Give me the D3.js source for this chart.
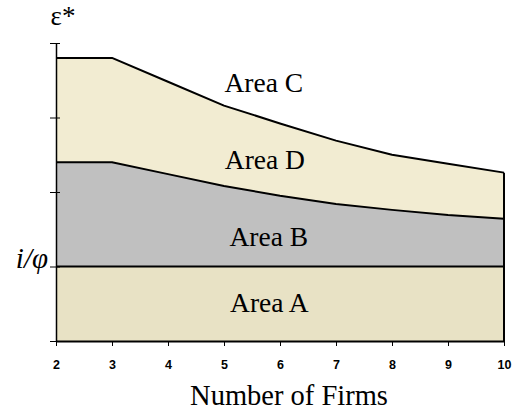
<!DOCTYPE html>
<html><head><meta charset="utf-8">
<script src="https://cdn.jsdelivr.net/npm/d3@7"></script>
<style>html,body{margin:0;padding:0;background:#fff;}svg{display:block;}</style>
</head><body>
<svg id="chart" width="512" height="413"></svg>
<script>
const firms = [2, 3, 4, 5, 6, 7, 8, 9, 10];
const upperBound = [3.80, 3.80, 3.48, 3.16, 2.92, 2.69, 2.50, 2.38, 2.26];
const lowerBound = [2.40, 2.40, 2.24, 2.08, 1.95, 1.84, 1.76, 1.69, 1.64];
const iPhiLevel = 1;
const xTicks = [2, 3, 4, 5, 6, 7, 8, 9, 10];
const yTicks = [0, 1, 2, 3, 4];
const areaLabels = [
  {text: "Area C", x: 5.71, y: 3.34},
  {text: "Area D", x: 5.73, y: 2.31},
  {text: "Area B", x: 5.80, y: 1.275},
  {text: "Area A", x: 5.81, y: 0.39}
];

const svg = d3.select("#chart");
const x = d3.scaleLinear().domain([2, 10]).range([56, 504]);
const y = d3.scaleLinear().domain([0, 4]).range([341, 43]);

const lineGen = d3.line().x((d, i) => x(firms[i])).y(d => y(d));
function curvePath(vals) { return lineGen(vals); }
const baseClose = `L${x(10)},${y(0)}L${x(2)},${y(0)}Z`;

// fills (painter's order)
svg.append("path").attr("d", curvePath(upperBound) + baseClose).attr("fill", "#f2ecd2");
svg.append("path").attr("d", curvePath(lowerBound) + baseClose).attr("fill", "#c0c0c0");
svg.append("rect").attr("x", x(2)).attr("y", y(iPhiLevel))
  .attr("width", x(10) - x(2)).attr("height", y(0) - y(iPhiLevel)).attr("fill", "#e8e2c5");

// boundary lines
svg.append("path").attr("d", curvePath(upperBound)).attr("fill", "none").attr("stroke", "#000").attr("stroke-width", 2).attr("stroke-linejoin", "round");
svg.append("path").attr("d", curvePath(lowerBound)).attr("fill", "none").attr("stroke", "#000").attr("stroke-width", 2).attr("stroke-linejoin", "round");
svg.append("line").attr("x1", x(2)).attr("x2", x(10)).attr("y1", y(iPhiLevel)).attr("y2", y(iPhiLevel))
  .attr("stroke", "#000").attr("stroke-width", 2);
svg.append("line").attr("x1", x(10)).attr("x2", x(10)).attr("y1", y(upperBound[upperBound.length - 1])).attr("y2", y(0))
  .attr("stroke", "#000").attr("stroke-width", 2);

// x axis
const xAxis = svg.append("g").attr("transform", `translate(0,${y(0)})`)
  .call(d3.axisBottom(x).tickValues(xTicks).tickSize(5).tickSizeOuter(0).tickPadding(14));
xAxis.select(".domain").attr("stroke", "#000").attr("stroke-width", 2);
xAxis.selectAll(".tick line").attr("stroke", "#000").attr("stroke-width", 1);
xAxis.selectAll("text").attr("font-family", "'Liberation Sans', Arial, sans-serif")
  .attr("font-weight", "bold").attr("font-size", 12.5).attr("fill", "#000");

// y axis
const yAxis = svg.append("g").attr("transform", `translate(${x(2)},0)`)
  .call(d3.axisLeft(y).tickValues(yTicks).tickSize(6).tickSizeOuter(0).tickFormat(""));
yAxis.select(".domain").attr("stroke", "#000").attr("stroke-width", 1.5);
yAxis.selectAll(".tick line").attr("x2", 4).attr("x1", -6).attr("stroke", "#000").attr("stroke-width", 1);

// labels
const serif = "'Liberation Serif', 'Times New Roman', serif";
svg.selectAll(".area-label").data(areaLabels).enter().append("text")
  .attr("class", "area-label")
  .attr("x", d => x(d.x)).attr("y", d => y(d.y))
  .attr("text-anchor", "middle").attr("font-family", serif).attr("font-size", 27.5).attr("fill", "#000")
  .text(d => d.text);

svg.append("text").attr("x", 63).attr("y", 25).attr("text-anchor", "middle")
  .attr("font-family", serif).attr("font-size", 27).attr("fill", "#000").text("ε*");

svg.append("text").attr("x", 48).attr("y", 268).attr("text-anchor", "end")
  .attr("font-family", serif).attr("font-style", "italic").attr("font-size", 29).attr("fill", "#000").text("i/φ");

svg.append("text").attr("x", 289).attr("y", 405).attr("text-anchor", "middle")
  .attr("font-family", serif).attr("font-size", 28.5).attr("fill", "#000").text("Number of Firms");
</script>
</body></html>
